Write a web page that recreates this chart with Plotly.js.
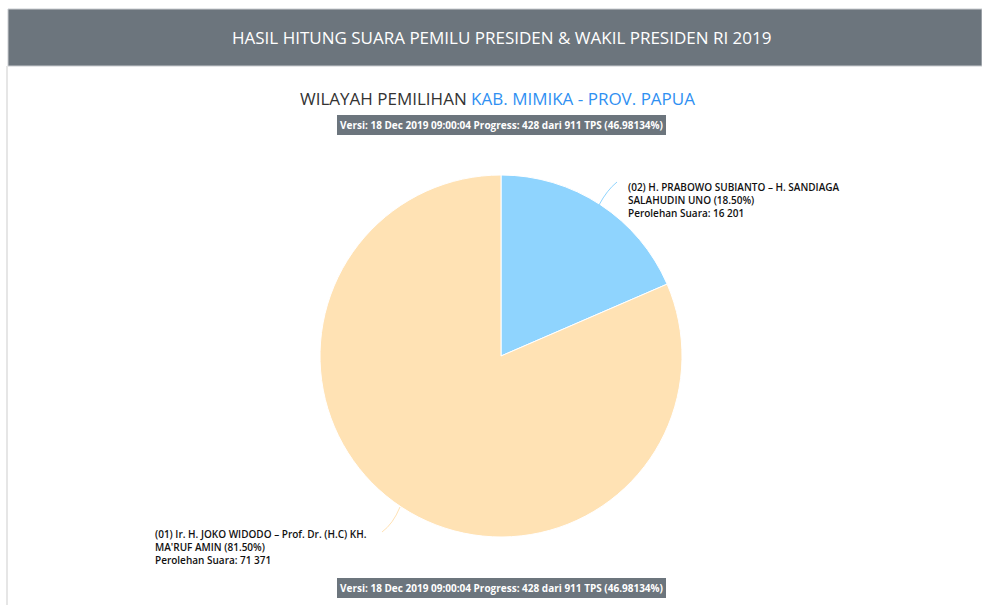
<!DOCTYPE html>
<html>
<head>
<meta charset="utf-8">
<script src="https://cdn.plot.ly/plotly-3.0.1.min.js"></script>
<style>
html,body{margin:0;padding:0;background:#fff;}
#chart{width:982px;height:605px;}
</style>
</head>
<body>
<div id="chart"></div>
<script>
// ---- data ----
var candidates = [
  "(02) H. PRABOWO SUBIANTO \u2013 H. SANDIAGA<br>SALAHUDIN UNO",
  "(01) Ir. H. JOKO WIDODO \u2013 Prof. Dr. (H.C) KH.<br>MA'RUF AMIN"
];
var votes = [16201, 71371];
var sliceColors = ["#8fd4fe", "#ffe2b4"];
var headerTitle = "HASIL HITUNG SUARA PEMILU PRESIDEN &amp; WAKIL PRESIDEN RI 2019";
var regionPrefix = "WILAYAH PEMILIHAN ";
var regionName = "KAB. MIMIKA - PROV. PAPUA";
var versionText = "Versi: 18 Dec 2019 09:00:04 Progress: 428 dari 911 TPS (46.98134%)";

// ---- helpers ----
var W = 982, H = 605;
function px(x){ return x / W; }
function py(y){ return 1 - y / H; }
function fmt(n){ return String(n).replace(/\B(?=(\d{3})+(?!\d))/g, " "); }
var total = votes.reduce(function(a,b){return a+b;}, 0);
function labelText(i){
  var pct = (votes[i] / total * 100).toFixed(2);
  return candidates[i] + " (" + pct + "%)<br>Perolehan Suara: " + fmt(votes[i]);
}

var cx = 501, cy = 356, r = 181;

var trace = {
  type: "pie",
  values: votes,
  labels: candidates,
  marker: {colors: sliceColors, line: {color: "#ffffff", width: 1}},
  sort: false,
  direction: "clockwise",
  rotation: 0,
  textinfo: "none",
  hoverinfo: "none",
  showlegend: false,
  domain: {x: [px(cx - r), px(cx + r)], y: [py(cy + r), py(cy - r)]}
};

var labelFont = {family: "Open Sans, Noto Sans, sans-serif", size: 10, color: "#111", weight: 600};
var badgeFont = {family: "Open Sans, Noto Sans, sans-serif", size: 10, color: "#ffffff"};

var annotations = [
  {xref:"paper", yref:"paper", x: px(501), y: py(38), text: headerTitle, showarrow:false,
   font:{family:"Open Sans, sans-serif", size:17, color:"#ffffff"}, xanchor:"center", yanchor:"middle"},
  {xref:"paper", yref:"paper", x: px(498), y: py(98),
   text: regionPrefix + "<span style='color:#2f90f2'>" + regionName + "</span>", showarrow:false,
   font:{family:"Open Sans, sans-serif", size:17, color:"#333333"}, xanchor:"center", yanchor:"middle"},
  {xref:"paper", yref:"paper", x: px(501), y: py(125.5), text: "<b>" + versionText + "</b>", showarrow:false,
   font: badgeFont, bgcolor:"#6c757d", bordercolor:"#6c757d", borderpad:2, borderwidth:1,
   xanchor:"center", yanchor:"middle"},
  {xref:"paper", yref:"paper", x: px(501), y: py(588), text: "<b>" + versionText + "</b>", showarrow:false,
   font: badgeFont, bgcolor:"#6c757d", bordercolor:"#6c757d", borderpad:2, borderwidth:1,
   xanchor:"center", yanchor:"middle"},
  {xref:"paper", yref:"paper", x: px(626), y: py(178), text: labelText(0), showarrow:false,
   font: labelFont, align:"left", xanchor:"left", yanchor:"top"},
  {xref:"paper", yref:"paper", x: px(153), y: py(525), text: labelText(1), showarrow:false,
   font: labelFont, align:"left", xanchor:"left", yanchor:"top"}
];

var shapes = [
  {type:"rect", xref:"paper", yref:"paper", x0: px(8), x1: 1, y0: py(66), y1: py(9),
   fillcolor:"#6c757d", line:{color:"#c9ccd0", width:1}},
  {type:"line", xref:"paper", yref:"paper", x0: px(7), x1: px(7), y0: 0, y1: py(66),
   line:{color:"#e6e6e6", width:2}},
  {type:"path", xref:"paper", yref:"paper",
   path: "M " + px(599) + "," + py(205) + " Q " + px(607) + "," + py(190) + " " + px(617) + "," + py(182),
   line:{color:"#8fd4fe", width:1}},
  {type:"path", xref:"paper", yref:"paper",
   path: "M " + px(400) + "," + py(507) + " Q " + px(393) + "," + py(524) + " " + px(382) + "," + py(532),
   line:{color:"#ffe2b4", width:1}}
];

var layout = {
  width: W, height: H,
  margin: {l:0, r:0, t:0, b:0},
  paper_bgcolor: "#ffffff",
  plot_bgcolor: "#ffffff",
  annotations: annotations,
  shapes: shapes,
  showlegend: false
};

Plotly.newPlot("chart", [trace], layout, {displayModeBar:false, staticPlot:true});
</script>
</body>
</html>
